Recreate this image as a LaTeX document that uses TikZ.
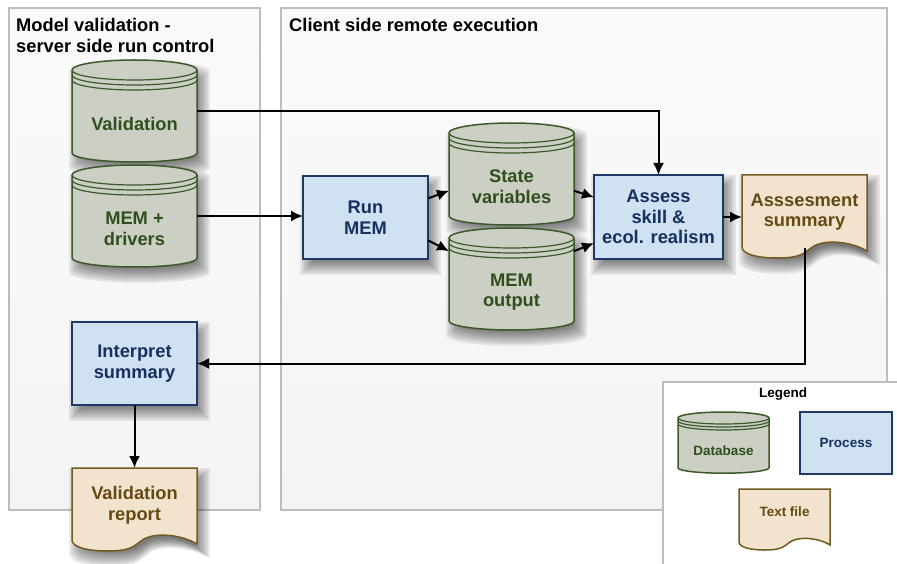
\documentclass[tikz,border=0pt]{standalone}
\usepackage{fontspec}
\setmainfont{Liberation Sans}
\usetikzlibrary{arrows.meta}

\definecolor{paneltop}{HTML}{FAFAFA}
\definecolor{panelbottom}{HTML}{F4F4F4}
\definecolor{panelline}{HTML}{BDBDBD}
\definecolor{dbfill}{HTML}{CBCFC4}
\definecolor{dbline}{HTML}{3A5A28}
\definecolor{dbtext}{HTML}{2F4F1C}
\definecolor{procfill}{HTML}{D0E1F2}
\definecolor{procline}{HTML}{1F3864}
\definecolor{proctext}{HTML}{16305F}
\definecolor{docfill}{HTML}{F2E3CF}
\definecolor{docline}{HTML}{735A20}
\definecolor{doctext}{HTML}{644A12}

\def\boxsize{18.3}
\def\docmid{37}
\newif\ifblur
\tikzset{
	hitbox/.style={inner sep=0pt,outer sep=0pt},
	boxlabel/.style={inner sep=0pt,align=center,font=\bfseries\fontsize{\boxsize}{20.7}\selectfont},
	panel/.style={top color=paneltop,bottom color=panelbottom,draw=panelline,line width=1.7pt},
	paneltitle/.style={inner sep=0pt,align=left,font=\bfseries\fontsize{18.3}{21}\selectfont},
	flow/.style={black,line width=2pt,-{Latex[length=12pt,width=11pt]}}
}

\def\dbbody{(0,10) .. controls (0,4.5) and (28,0) .. (62.5,0) .. controls (97,0) and (125,4.5) .. (125,10)
	-- (125,93) .. controls (125,98) and (97,102) .. (62.5,102) .. controls (28,102) and (0,98) .. (0,93) -- cycle}
\def\docbody{(0,0) -- (125,0) -- (125,76) .. controls (110,67) and (85,64) .. (72,71)
	.. controls (62,77) and (62,83) .. (35,83) .. controls (15,83) and (0,79) .. (0,72) -- cycle}

% soft shadow: grown copies of a path, width #1, height #2
\newcommand{\blurlayers}[3]{
	\foreach \g in {-8,-6,...,8} {
		\fill[black,opacity=0.075,shift={(#1/2+5,#2/2+8)},xscale={1+2*\g/#1},yscale={1+2*\g/#2},shift={(-#1/2,-#2/2)}] #3;
	}
}
\newcommand{\dbnode}[6]{
	\begin{scope}[shift={(#2,#3)},xscale=#4,yscale=#5]
		\ifblur\blurlayers{125}{102}{\dbbody}\fi
		\draw[fill=dbfill,draw=dbline,line width=1.5pt] \dbbody;
		\foreach \d in {0,5,10} {
			\draw[dbline,line width=1.2pt] (0,10+\d) .. controls (0,15.5+\d) and (28,20+\d) .. (62.5,20+\d) .. controls (97,20+\d) and (125,15.5+\d) .. (125,10+\d);
		}
		\node[hitbox,minimum width=125*#4,minimum height=102*#5] (#1) at (62.5,51) {};
		\node[boxlabel,text=dbtext] (#1t) at (62.5,64) {#6};
	\end{scope}
}
\newcommand{\procnode}[6]{
	\begin{scope}[shift={(#2,#3)}]
		\ifblur\blurlayers{#4}{#5}{(0,0) rectangle (#4,#5)}\fi
		\node[hitbox,fill=procfill,draw=procline,line width=1.7pt,minimum width=#4,minimum height=#5] (#1) at (#4/2,#5/2) {};
		\node[boxlabel,text=proctext] (#1t) at (#4/2,#5/2) {#6};
	\end{scope}
}
\newcommand{\docnode}[6]{
	\begin{scope}[shift={(#2,#3)},xscale=#4,yscale=#5]
		\ifblur\blurlayers{125}{83}{\docbody}\fi
		\draw[fill=docfill,draw=docline,line width=1.5pt] \docbody;
		\node[hitbox,minimum width=125*#4,minimum height=73*#5] (#1) at (62.5,36.5) {};
		\node[boxlabel,text=doctext] (#1t) at (62.5,\docmid) {#6};
	\end{scope}
}

\begin{document}
\begin{tikzpicture}[x=1pt,y=-1pt]
	\useasboundingbox (0,0) rectangle (897,564);
	\fill[white] (0,0) rectangle (897,564);
	% panels
	\draw[panel] (9,8) rectangle (260,510);
	\draw[panel] (281,8) rectangle (887,510);
	\node[paneltitle,anchor=north west] (servertitle) at (16,18) {Model validation -\\server side run control};
	\node[paneltitle,anchor=north west] (clienttitle) at (289,18) {Client side remote execution};
	% boxes
	\blurtrue
	\dbnode{validation}{72}{60}{1}{1}{Validation}
	\dbnode{drivers}{72}{165}{1}{1}{MEM +\\drivers}
	\dbnode{state}{449}{123}{1}{1}{State\\variables}
	\dbnode{output}{449}{228}{1}{1}{MEM\\output}
	\procnode{runmem}{303}{176}{125}{83}{Run\\MEM}
	\procnode{assess}{594}{175}{129}{84}{Assess\\skill \&\\ecol. realism}
	\procnode{interpret}{72}{322}{125}{83}{Interpret\\summary}
	\docnode{summary}{742}{175}{1}{1}{Asssesment\\summary}
	\docnode{report}{72}{468}{1}{1}{Validation\\report}
	% connectors
	\draw[flow] (validation.east) -| (assess.north);
	\draw[flow] (drivers.east) -- (runmem.west |- drivers.east);
	\draw[flow] (runmem.17) -- (state.195);
	\draw[flow] (runmem.-20) -- (output.156);
	\draw[flow] (state.-15) -- (assess.163);
	\draw[flow] (output.24) -- (assess.202);
	\draw[flow] (assess.east) -- (summary.west |- assess.east);
	\draw[flow] (summary.south) |- (interpret.east);
	\draw[flow] (interpret.south) -- (report.north);
	% legend
	\fill[white] (663,382) rectangle (897,564);
	\draw[panelline,line width=1.7pt] (663,564) -- (663,382) -- (897,382);
	\def\boxsize{13.5}
	\def\docmid{31}
	\blurfalse
	\node[boxlabel] (legendtitle) at (783,394) {Legend};
	\dbnode{legenddb}{678}{412}{0.728}{0.6}{Database}
	\procnode{legendproc}{800}{412}{92}{62}{Process}
	\docnode{legenddoc}{739}{489}{0.728}{0.735}{Text file}
\end{tikzpicture}
\end{document}
